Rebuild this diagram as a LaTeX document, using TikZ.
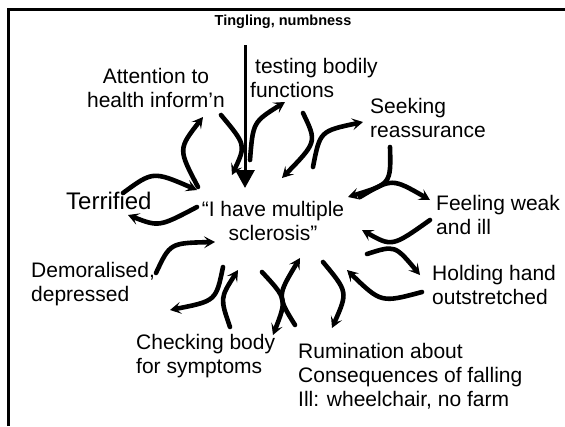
\documentclass[tikz,border=0pt]{standalone}
\usepackage{fontspec}
\setmainfont{Liberation Sans}
\usetikzlibrary{arrows.meta}
\tikzset{
  lbl/.style={inner sep=0pt, font=\fontsize{21}{24}\selectfont},
  lblL/.style={lbl, align=left, anchor=west},
  cyc/.style={line width=4.6pt, line cap=round, -{Stealth[length=11pt,width=12pt,inset=5pt]}},
  frame/.style={line width=3pt},
}
\begin{document}
\begin{tikzpicture}[x=1pt,y=-1pt]
\useasboundingbox (0,0) rectangle (565,426);
\draw[frame] (8,426) -- (8,9) -- (565,9);
% texts
\node[inner sep=0pt, font=\fontsize{14.5}{16}\selectfont\bfseries] (ting) at (283,22) {Tingling, numbness};
\node[lbl, align=center] (att) at (156,88) {Attention to\\health inform’n};
\node[lblL] (test) at (250,78) {\hspace*{5pt}testing bodily\\functions};
\node[lblL] (seek) at (370,118) {Seeking\\reassurance};
\node[inner sep=0pt, anchor=west, font=\fontsize{24}{26}\selectfont] (terr) at (66,201) {Terrified};
\node[lbl, align=center] (ms) at (273,221) {“I have multiple\\sclerosis”};
\node[lblL] (weak) at (436,215) {Feeling weak\\and ill};
\node[lblL] (hold) at (432,285) {Holding hand\\outstretched};
\node[lblL] (demo) at (31,284) {Demoralised,\\depressed};
\node[lblL] (check) at (136,356) {Checking body\\for symptoms};
\node[lblL] (rum) at (298,376) {Rumination about\\Consequences of falling\\Ill: wheelchair, no farm};
% main arrow
\coordinate (v0) at (245,45);
\coordinate (v1) at (245,188);
\draw[line width=3pt, -{Triangle[length=18pt,width=19pt]}] (v0) -- (v1);
% cycle arrow end points
\coordinate (b1a) at (198,187); \coordinate (b1b) at (203,117);
\coordinate (b2a) at (221,115); \coordinate (b2b) at (232,175);
\coordinate (c1a) at (250,160); \coordinate (c1b) at (285,102);
\coordinate (c2a) at (303,113); \coordinate (c2b) at (282,178);
\coordinate (d1a) at (313,167); \coordinate (d1b) at (363,122);
\coordinate (d2a) at (390,147); \coordinate (d2b) at (348,197);
\coordinate (e1a) at (360,197); \coordinate (e1b) at (430,200);
\coordinate (e2a) at (430,220); \coordinate (e2b) at (362,230);
\coordinate (f1a) at (367,254); \coordinate (f1b) at (420,275);
\coordinate (f2a) at (422,292); \coordinate (f2b) at (347,270);
\coordinate (g1a) at (323,262); \coordinate (g1b) at (332,328);
\coordinate (g2a) at (295,325); \coordinate (g2b) at (300,258);
\coordinate (g3a) at (262,272); \coordinate (g3b) at (273,335);
\coordinate (h1a) at (230,327); \coordinate (h1b) at (238,270);
\coordinate (h2a) at (223,267); \coordinate (h2b) at (170,310);
\coordinate (ia) at (156,273); \coordinate (ib) at (215,242);
\coordinate (j1a) at (123,193); \coordinate (j1b) at (197,190);
\coordinate (j2a) at (197,207); \coordinate (j2b) at (128,215);
% cycle arrows
\draw[cyc] (b1a) .. controls (178,149) .. (b1b);
\draw[cyc] (b2a) .. controls (246,145) .. (b2b);
\draw[cyc] (c1a) .. controls (253,122) .. (c1b);
\draw[cyc] (c2a) .. controls (317,142) .. (c2b);
\draw[cyc] (d1a) .. controls (320,131) .. (d1b);
\draw[cyc] (d2a) .. controls (391,184) .. (d2b);
\draw[cyc] (e1a) .. controls (392,178) .. (e1b);
\draw[cyc] (e2a) .. controls (392,247) .. (e2b);
\draw[cyc] (f1a) .. controls (395,245) .. (f1b);
\draw[cyc] (f2a) .. controls (381,303) .. (f2b);
\draw[cyc] (g1a) .. controls (348,292) .. (g1b);
\draw[cyc] (g2a) .. controls (277,296) .. (g2b);
\draw[cyc] (g3a) .. controls (287,299) .. (g3b);
\draw[cyc] (h1a) .. controls (220,298) .. (h1b);
\draw[cyc] (h2a) .. controls (216,301) .. (h2b);
\draw[cyc] (ia) .. controls (170,243) .. (ib);
\draw[cyc] (j1a) .. controls (153,171) .. (j1b);
\draw[cyc] (j2a) .. controls (159,227) .. (j2b);
\end{tikzpicture}
\end{document}
